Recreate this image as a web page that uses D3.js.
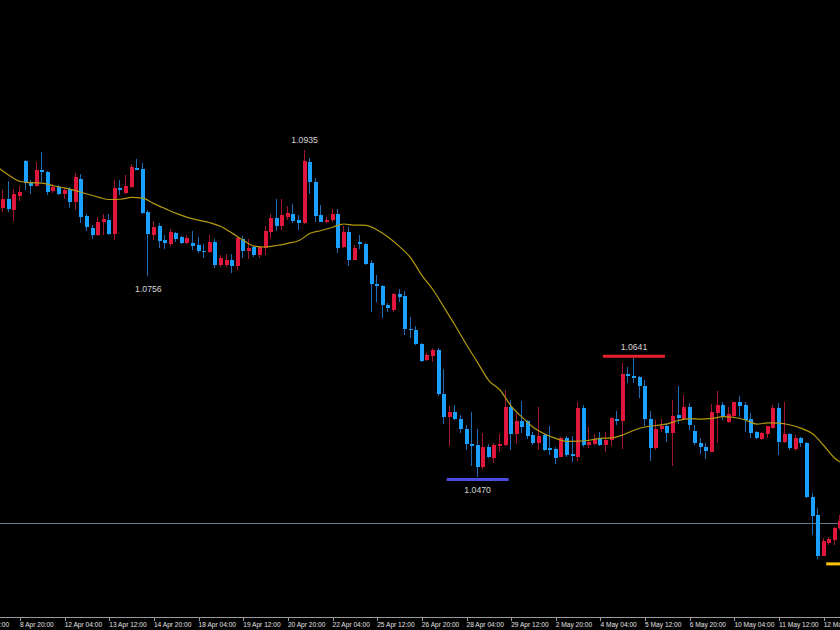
<!DOCTYPE html>
<html><head><meta charset="utf-8">
<script src="https://cdn.jsdelivr.net/npm/d3@7"></script>
<style>html,body{margin:0;padding:0;background:#000;overflow:hidden}</style>
</head><body>
<svg id="chart" width="840" height="630"></svg>
<script>
// ---- DATA (EURUSD, H4) ----
const firstIndex = -3; // candle index of first entry; index 0 = 8 Apr 20:00
const open = [
1.0852,1.0866,1.0850,1.0870,1.0919,1.0888,1.0884,1.0907,1.0904,1.0876,
1.0883,1.0872,1.0879,1.0861,1.0894,1.0841,1.0824,1.0814,1.0832,1.0835,
1.0815,1.0881,1.0874,1.0882,1.0910,1.0908,1.0847,1.0814,1.0827,1.0807,
1.0802,1.0817,1.0811,1.0803,1.0803,1.0800,1.0792,1.0790,1.0804,1.0771,
1.0772,1.0779,1.0770,1.0809,1.0792,1.0797,1.0785,1.0796,1.0818,1.0839,
1.0827,1.0840,1.0844,1.0835,1.0831,1.0918,1.0890,1.0842,1.0832,1.0835,
1.0844,1.0797,1.0818,1.0779,1.0804,1.0801,1.0774,1.0744,1.0742,1.0715,
1.0708,1.0730,1.0727,1.0681,1.0679,1.0659,1.0636,1.0642,1.0650,1.0588,
1.0555,1.0563,1.0552,1.0538,1.0517,1.0515,1.0484,1.0512,1.0497,1.0514,
1.0515,1.0569,1.0531,1.0550,1.0549,1.0530,1.0518,1.0530,1.0511,1.0510,
1.0499,1.0526,1.0502,1.0499,1.0568,1.0515,1.0517,1.0525,1.0515,1.0522,
1.0553,1.0549,1.0617,1.0614,1.0612,1.0600,1.0553,1.0511,1.0538,1.0542,
1.0532,1.0558,1.0553,1.0570,1.0536,1.0519,1.0513,1.0506,1.0561,1.0573,
1.0548,1.0557,1.0576,1.0572,1.0552,1.0534,1.0524,1.0531,1.0539,1.0568,
1.0520,1.0531,1.0510,1.0525,1.0518,1.0441,1.0416,1.0358,1.0376,1.0381,
1.0397];
const high = [
1.0878,1.0891,1.0880,1.0884,1.0921,1.0893,1.0918,1.0932,1.0905,1.0887,
1.0885,1.0881,1.0883,1.0903,1.0901,1.0844,1.0828,1.0840,1.0844,1.0844,
1.0893,1.0892,1.0899,1.0915,1.0922,1.0917,1.0849,1.0834,1.0831,1.0814,
1.0823,1.0819,1.0812,1.0814,1.0820,1.0811,1.0801,1.0814,1.0809,1.0786,
1.0787,1.0787,1.0812,1.0812,1.0808,1.0798,1.0798,1.0827,1.0844,1.0866,
1.0865,1.0855,1.0858,1.0843,1.0935,1.0924,1.0895,1.0857,1.0840,1.0851,
1.0851,1.0827,1.0826,1.0800,1.0814,1.0803,1.0778,1.0757,1.0743,1.0717,
1.0731,1.0738,1.0735,1.0697,1.0685,1.0661,1.0647,1.0653,1.0653,1.0623,
1.0571,1.0572,1.0558,1.0544,1.0563,1.0538,1.0532,1.0517,1.0519,1.0531,
1.0594,1.0580,1.0561,1.0578,1.0551,1.0534,1.0569,1.0533,1.0542,1.0513,
1.0527,1.0528,1.0528,1.0577,1.0572,1.0541,1.0531,1.0534,1.0534,1.0555,
1.0564,1.0632,1.0627,1.0641,1.0614,1.0608,1.0564,1.0551,1.0552,1.0545,
1.0580,1.0599,1.0587,1.0575,1.0544,1.0525,1.0518,1.0574,1.0592,1.0576,
1.0570,1.0577,1.0585,1.0576,1.0561,1.0536,1.0534,1.0543,1.0573,1.0575,
1.0577,1.0533,1.0530,1.0527,1.0520,1.0447,1.0426,1.0383,1.0385,1.0399,
1.0416];
const low = [
1.0847,1.0847,1.0834,1.0863,1.0878,1.0873,1.0883,1.0890,1.0871,1.0874,
1.0871,1.0865,1.0852,1.0849,1.0831,1.0820,1.0809,1.0813,1.0814,1.0814,
1.0807,1.0871,1.0873,1.0881,1.0906,1.0844,1.0756,1.0807,1.0796,1.0794,
1.0799,1.0804,1.0802,1.0801,1.0793,1.0789,1.0782,1.0788,1.0767,1.0769,
1.0768,1.0760,1.0765,1.0782,1.0780,1.0783,1.0781,1.0786,1.0810,1.0820,
1.0821,1.0835,1.0831,1.0821,1.0830,1.0872,1.0833,1.0832,1.0831,1.0833,
1.0789,1.0795,1.0770,1.0778,1.0794,1.0771,1.0705,1.0719,1.0696,1.0704,
1.0705,1.0719,1.0672,1.0667,1.0657,1.0634,1.0635,1.0633,1.0585,1.0545,
1.0514,1.0551,1.0532,1.0508,1.0486,1.0470,1.0481,1.0497,1.0490,1.0505,
1.0514,1.0508,1.0517,1.0533,1.0524,1.0515,1.0509,1.0507,1.0501,1.0489,
1.0498,1.0499,1.0492,1.0493,1.0512,1.0511,1.0515,1.0514,1.0506,1.0514,
1.0544,1.0510,1.0604,1.0603,1.0582,1.0542,1.0493,1.0509,1.0534,1.0520,
1.0485,1.0545,1.0551,1.0537,1.0515,1.0503,1.0495,1.0505,1.0518,1.0551,
1.0547,1.0556,1.0556,1.0534,1.0525,1.0524,1.0523,1.0525,1.0538,1.0501,
1.0518,1.0509,1.0507,1.0512,1.0440,1.0388,1.0354,1.0357,1.0373,1.0373,
1.0395];
const close = [
1.0866,1.0851,1.0872,1.0875,1.0888,1.0884,1.0907,1.0904,1.0875,1.0883,
1.0872,1.0878,1.0861,1.0896,1.0840,1.0825,1.0814,1.0833,1.0837,1.0816,
1.0881,1.0878,1.0884,1.0911,1.0907,1.0846,1.0815,1.0825,1.0806,1.0803,
1.0818,1.0809,1.0803,1.0810,1.0799,1.0791,1.0790,1.0804,1.0771,1.0782,
1.0778,1.0770,1.0810,1.0792,1.0796,1.0786,1.0797,1.0820,1.0839,1.0827,
1.0843,1.0845,1.0834,1.0831,1.0920,1.0890,1.0841,1.0833,1.0836,1.0844,
1.0796,1.0819,1.0779,1.0795,1.0801,1.0773,1.0744,1.0742,1.0715,1.0711,
1.0730,1.0726,1.0680,1.0679,1.0659,1.0635,1.0644,1.0650,1.0588,1.0555,
1.0562,1.0552,1.0538,1.0517,1.0514,1.0484,1.0512,1.0498,1.0515,1.0517,
1.0569,1.0531,1.0550,1.0541,1.0528,1.0518,1.0528,1.0509,1.0508,1.0497,
1.0525,1.0501,1.0500,1.0568,1.0515,1.0520,1.0524,1.0515,1.0523,1.0554,
1.0549,1.0617,1.0614,1.0611,1.0599,1.0552,1.0511,1.0538,1.0542,1.0532,
1.0557,1.0554,1.0570,1.0544,1.0519,1.0512,1.0507,1.0562,1.0573,1.0556,
1.0559,1.0576,1.0571,1.0551,1.0533,1.0525,1.0532,1.0542,1.0568,1.0520,
1.0531,1.0511,1.0525,1.0518,1.0441,1.0415,1.0358,1.0379,1.0382,1.0398,
1.0408];

// moving average, read every 2 candles starting at index -4
const maFirstIndex = -4;
const maStep = 2;
const maValues = [
1.09103,1.08992,1.08902,1.08885,1.08878,1.08842,1.08811,1.08773,1.08724,1.08680,
1.08646,1.08650,1.08675,1.08665,1.08588,1.08517,1.08448,1.08392,1.08352,1.08316,
1.08262,1.08168,1.08067,1.07983,1.07971,1.07992,1.08023,1.08063,1.08167,1.08205,
1.08251,1.08298,1.08282,1.08279,1.08212,1.08109,1.07976,1.07817,1.07568,1.07363,
1.07109,1.06851,1.06581,1.06327,1.06072,1.05937,1.05708,1.05546,1.05405,1.05311,
1.05249,1.05206,1.05209,1.05223,1.05250,1.05256,1.05297,1.05365,1.05411,1.05432,
1.05456,1.05503,1.05530,1.05522,1.05533,1.05559,1.05546,1.05510,1.05453,1.05469,
1.05466,1.05439,1.05391,1.05314,1.05148,1.04967,1.04870];

const tickIndex = [-8,0,8,16,24,32,40,48,56,64,72,80,88,96,104,112,120,128,136,144];
const tickLabels = ["7 Apr 12:00","8 Apr 20:00","12 Apr 04:00","13 Apr 12:00","14 Apr 20:00",
 "18 Apr 04:00","19 Apr 12:00","20 Apr 20:00","22 Apr 04:00","25 Apr 12:00","26 Apr 20:00",
 "28 Apr 04:00","29 Apr 12:00","2 May 20:00","4 May 04:00","5 May 12:00","6 May 20:00",
 "10 May 04:00","11 May 12:00","12 May 20:00"];

const extremeIndex = [51, 23, 82, 110, 150];
const extremePrice = [1.0935, 1.0756, 1.0470, 1.0641, 1.0350];
const extremeKind  = ["high", "low", "low", "high", "low"];
const refPrice = 1.0404;

// ---- STYLE ----
const W = 840, H = 630;
const UP = "#e0163c", DOWN = "#1aa0ff";
const UP_WICK = "#a3162f", DOWN_WICK = "#1d6cb4";
const markerColor = {82: "#4b4be0", 110: "#e8202c", 150: "#ffc20c"};

const svg = d3.select("#chart");
svg.append("rect").attr("width", W).attr("height", H).attr("fill", "#000");

const x = d3.scaleLinear().domain([0, 144]).range([20, 823.7]);
const y = d3.scaleLinear().domain([1.0470, 1.0935]).range([477, 150]);

const candles = open.map((o, k) => ({i: firstIndex + k, o, h: high[k], l: low[k], c: close[k]}));

// reference (price) line
svg.append("line")
  .attr("x1", 0).attr("x2", W)
  .attr("y1", Math.round(y(refPrice)) + 0.5).attr("y2", Math.round(y(refPrice)) + 0.5)
  .attr("stroke", "#6a7a8c").attr("stroke-width", 1).attr("shape-rendering", "crispEdges");

const gC = svg.append("g").attr("shape-rendering", "crispEdges");
gC.selectAll("line.wick").data(candles).join("line")
  .attr("class", "wick")
  .attr("x1", d => Math.round(x(d.i)) - 0.5).attr("x2", d => Math.round(x(d.i)) - 0.5)
  .attr("y1", d => y(d.h)).attr("y2", d => y(d.l))
  .attr("stroke", d => d.c >= d.o ? UP_WICK : DOWN_WICK).attr("stroke-width", 1);

gC.selectAll("rect.body").data(candles).join("rect")
  .attr("class", "body")
  .attr("x", d => Math.round(x(d.i)) - 2)
  .attr("width", 4)
  .attr("y", d => y(Math.max(d.o, d.c)))
  .attr("height", d => Math.max(1.5, Math.abs(y(d.o) - y(d.c))))
  .attr("fill", d => d.c >= d.o ? UP : DOWN);

// moving average
const maPts = maValues.map((v, k) => ({i: maFirstIndex + k * maStep, v}));
svg.append("path").datum(maPts)
  .attr("fill", "none").attr("stroke", "#b39a0e").attr("stroke-width", 1.2)
  .attr("d", d3.line().x(d => x(d.i)).y(d => y(d.v)).curve(d3.curveMonotoneX));

// extreme labels & markers
const ext = extremeIndex.map((i, k) => ({i, p: extremePrice[k], kind: extremeKind[k]}));
const gE = svg.append("g");
ext.forEach(e => {
  const cx = x(e.i), py = y(e.p);
  if (markerColor[e.i]) {
    const my = e.kind === "high" ? py - 0.5 : py + 2.5;
    gE.append("rect").attr("x", cx - 31).attr("width", 62)
      .attr("y", my - 1.5).attr("height", 3).attr("fill", markerColor[e.i]);
  }
  gE.append("text")
    .attr("x", cx).attr("y", e.kind === "high" ? py - 7 : py + 16)
    .attr("text-anchor", "middle")
    .attr("font-family", "Liberation Sans, Arial, sans-serif").attr("font-size", "8.7px")
    .attr("fill", "#d6d6d6")
    .text(e.p.toFixed(4));
});

// time axis
svg.append("line").attr("x1", 0).attr("x2", W).attr("y1", 617.5).attr("y2", 617.5)
  .attr("stroke", "#9a9a9a").attr("shape-rendering", "crispEdges");
const axis = d3.axisBottom(x).tickValues(tickIndex).tickFormat((d, k) => tickLabels[k]).tickSize(3).tickSizeOuter(0);
const gA = svg.append("g").attr("transform", "translate(0,617.5)").call(axis);
gA.select(".domain").remove();
gA.selectAll(".tick line").attr("stroke", "#9a9a9a").attr("shape-rendering", "crispEdges");
gA.selectAll(".tick text")
  .attr("text-anchor", "start").attr("x", -0.5).attr("y", 9.2).attr("dy", 0)
  .attr("fill", "#e0e0e0")
  .attr("font-family", "Liberation Sans, Arial, sans-serif").attr("font-size", "6.6px");
</script>
</body></html>
